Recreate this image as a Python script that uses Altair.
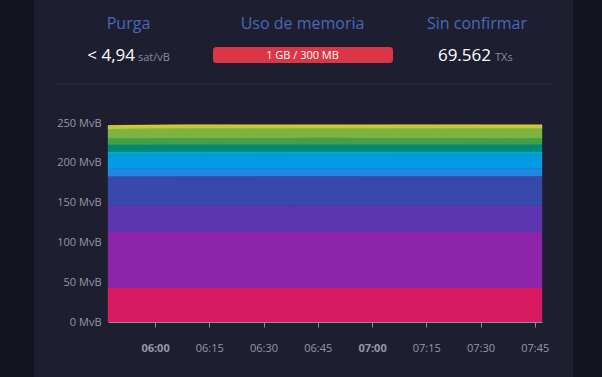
import altair as alt
import pandas as pd

# ---------------- data ----------------
times = [347, 357, 367, 377, 387, 397, 407, 417, 427, 437, 447, 457, 467]  # minutes of day

band_names = ["b00", "b01", "b02", "b03", "b04", "b05", "b06", "b07", "b08", "b09", "b10", "b11"]
band_colors = ["#D81B60", "#8E24AA", "#5E35B1", "#3949AB", "#1E88E5", "#039BE5",
               "#00ACC1", "#00897B", "#43A047", "#7CB342", "#C0CA33", "#FDD835"]

band_values = [
    [42.7, 42.7, 42.7, 42.7, 42.7, 42.7, 42.7, 42.7, 42.7, 42.7, 42.7, 42.7, 42.7],
    [70.3, 70.3, 70.3, 70.3, 70.3, 70.4, 70.4, 70.4, 70.3, 70.3, 70.3, 70.3, 70.3],
    [33.6, 33.6, 33.6, 33.6, 33.7, 33.6, 33.6, 33.6, 33.6, 33.6, 33.6, 33.6, 33.6],
    [36.6, 36.7, 36.8, 36.8, 36.8, 36.8, 36.8, 36.8, 36.8, 36.8, 36.8, 36.8, 36.8],
    [9.6, 9.4, 9.4, 9.3, 9.3, 9.3, 9.3, 9.3, 9.3, 9.3, 9.3, 9.3, 9.3],
    [17.4, 17.5, 17.6, 17.6, 17.6, 17.6, 17.7, 17.6, 17.6, 17.6, 17.6, 17.6, 17.6],
    [4.1, 4.1, 4.1, 4.1, 4.1, 4.1, 4.1, 4.1, 4.1, 4.2, 4.1, 4.1, 4.1],
    [8.5, 8.5, 8.5, 8.5, 8.5, 8.5, 8.5, 8.5, 8.5, 8.5, 8.5, 8.5, 8.5],
    [8.2, 8.3, 8.3, 8.3, 8.3, 8.3, 8.3, 8.3, 8.4, 8.3, 8.3, 8.2, 8.3],
    [11.6, 11.7, 11.8, 11.8, 11.8, 11.8, 11.8, 11.8, 11.8, 11.8, 11.8, 11.9, 11.8],
    [3.4, 3.6, 3.8, 3.9, 3.8, 3.7, 3.6, 3.7, 3.8, 3.8, 3.9, 3.8, 3.8],
    [0.8, 1.0, 1.0, 1.0, 0.9, 1.0, 1.0, 0.9, 1.0, 1.0, 1.0, 1.0, 1.0],
]

y_ticks = [0, 50, 100, 150, 200, 250]
x_ticks = [360, 375, 390, 405, 420, 435, 450, 465]
x_tick_labels = ["06:00", "06:15", "06:30", "06:45", "07:00", "07:15", "07:30", "07:45"]

header_titles = ["Purga", "Uso de memoria", "Sin confirmar"]
purge_value = "< 4,94"
purge_unit = "sat/vB"
memory_text = "1 GB / 300 MB"
unconfirmed_value = "69.562"
unconfirmed_unit = "TXs"

# ---------------- build table ----------------
rows = []
for bi, (name, vals) in enumerate(zip(band_names, band_values)):
    for t, v in zip(times, vals):
        rows.append({"t": t, "band": name, "order": bi, "v": v})
df = pd.DataFrame(rows)

FONT = "Open Sans"
W, H = 434, 199
L, T = 108, 123

one = alt.Data(values=[{}])

label_expr = "[" + ",".join("'%s'" % s for s in x_tick_labels) + "][(datum.value - %d) / 15]" % x_ticks[0]

area = alt.Chart(df).mark_area(strokeWidth=0.4).encode(
    x=alt.X("t:Q", scale=alt.Scale(domain=[times[0], times[-1]], nice=False, zero=False),
            axis=alt.Axis(values=x_ticks, labelExpr=label_expr, title=None, grid=False,
                          domain=True, domainColor="#8c8fa0", tickColor="#8c8fa0",
                          tickSize=5, labelPadding=15, labelFontSize=11, labelColor="#9597a6",
                          labelFont=FONT, zindex=2,
                          labelFontWeight={"condition": {"test": "datum.value % 60 === 0", "value": "bold"},
                                           "value": "normal"})),
    y=alt.Y("v:Q", stack="zero", scale=alt.Scale(domain=[0, 250], nice=False),
            axis=alt.Axis(values=y_ticks, labelExpr="datum.value + ' MvB'", title=None, grid=False,
                          domain=False, ticks=False, labelPadding=7, labelFontSize=11,
                          labelColor="#9597a6", labelFont=FONT, zindex=2)),
    color=alt.Color("band:N", scale=alt.Scale(domain=band_names, range=band_colors), legend=None),
    stroke=alt.Color("band:N", scale=alt.Scale(domain=band_names, range=band_colors), legend=None),
    order=alt.Order("order:Q", sort="ascending"),
)

card = alt.Chart(one).mark_rect(color="#1d1f31").encode(
    x=alt.value(34 - L), x2=alt.value(573 - L), y=alt.value(0 - T), y2=alt.value(377 - T))

sep = alt.Chart(one).mark_rule(color="#2c3147", strokeWidth=1).encode(
    x=alt.value(56 - L), x2=alt.value(553 - L), y=alt.value(84 - T))

def txt(s, x, y, size, color, align="center", baseline="alphabetic", weight="normal"):
    return alt.Chart(one).mark_text(text=s, font=FONT, fontSize=size, color=color, align=align,
                                    baseline=baseline, fontWeight=weight).encode(
        x=alt.value(x - L), y=alt.value(y - T))

titles = [
    txt(header_titles[0], 128.5, 29, 16, "#4a68b9"),
    txt(header_titles[1], 302.5, 29, 16, "#4a68b9"),
    txt(header_titles[2], 477, 29, 16, "#4a68b9"),
]

bar = alt.Chart(one).mark_rect(color="#dc3545", cornerRadius=3).encode(
    x=alt.value(213 - L), x2=alt.value(393 - L), y=alt.value(47 - T), y2=alt.value(63 - T))

values = [
    txt(purge_value, 135, 61, 17, "#ffffff", align="right"),
    txt(purge_unit, 138, 61, 11, "#8a8c9b", align="left"),
    txt(memory_text, 302.5, 59, 11, "#ffffff"),
    txt(unconfirmed_value, 491, 61, 17, "#ffffff", align="right"),
    txt(unconfirmed_unit, 495, 61, 11, "#8a8c9b", align="left"),
]

chart = alt.layer(card, sep, *titles, bar, *values, area).properties(
    width=W, height=H,
    padding={"left": L, "top": T, "right": 602 - L - W, "bottom": 377 - T - H},
    autosize=alt.AutoSizeParams(type="none"),
    background="#13141f",
).configure_view(strokeWidth=0)

chart.save("out.html", embed_options={"renderer": "svg", "actions": False})
